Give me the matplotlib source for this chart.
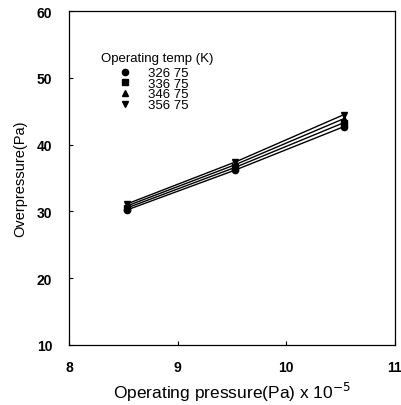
import matplotlib
matplotlib.use("Agg")
import matplotlib.pyplot as plt

plt.rcParams['font.family'] = ['Liberation Sans', 'DejaVu Sans']

# operating pressure (Pa x 10^-5)
pressure = [8.53, 9.53, 10.53]

# overpressure per operating temperature
temps = ['326 75', '336 75', '346 75', '356 75']
over_326 = [30.2, 36.2, 42.7]
over_336 = [30.5, 36.6, 43.3]
over_346 = [30.8, 37.0, 43.9]
over_356 = [31.1, 37.4, 44.5]
series = [over_326, over_336, over_346, over_356]
markers = ['o', 's', '^', 'v']

fig = plt.figure(figsize=(4.01, 4.06), dpi=100)
ax = fig.add_axes([0.172, 0.148, 0.813, 0.822])

for vals, m, lab in zip(series, markers, temps):
    ax.plot(pressure, vals, color='black', lw=1.0, marker=m, ms=4.5, label=lab)

ax.set_xlim(8, 11)
ax.set_ylim(10, 60)
ax.set_xticks([8, 9, 10, 11])
ax.set_yticks([10, 20, 30, 40, 50, 60])
ax.tick_params(direction='in', length=3, width=0.8, labelsize=10)
ax.tick_params(axis='x', pad=11)
ax.tick_params(axis='y', pad=12)
for t in ax.get_xticklabels() + ax.get_yticklabels():
    t.set_fontweight('bold')
for s in ax.spines.values():
    s.set_linewidth(0.9)

ax.set_xlabel('Operating pressure(Pa) x 10$^{-5}$', fontsize=12.5, labelpad=4)
ax.set_ylabel('Overpressure(Pa)', fontsize=10.5, labelpad=7)

leg = ax.legend(title='Operating temp (K)', loc='upper left', bbox_to_anchor=(0.081, 0.893),
                frameon=False, fontsize=9.5, title_fontsize=9.5, handlelength=0,
                handletextpad=1.7, labelspacing=-0.12, borderaxespad=0)
leg._legend_box.sep = 2
for h in leg.legend_handles:
    h.set_linestyle('none')

fig.savefig('out.png', dpi=100)
